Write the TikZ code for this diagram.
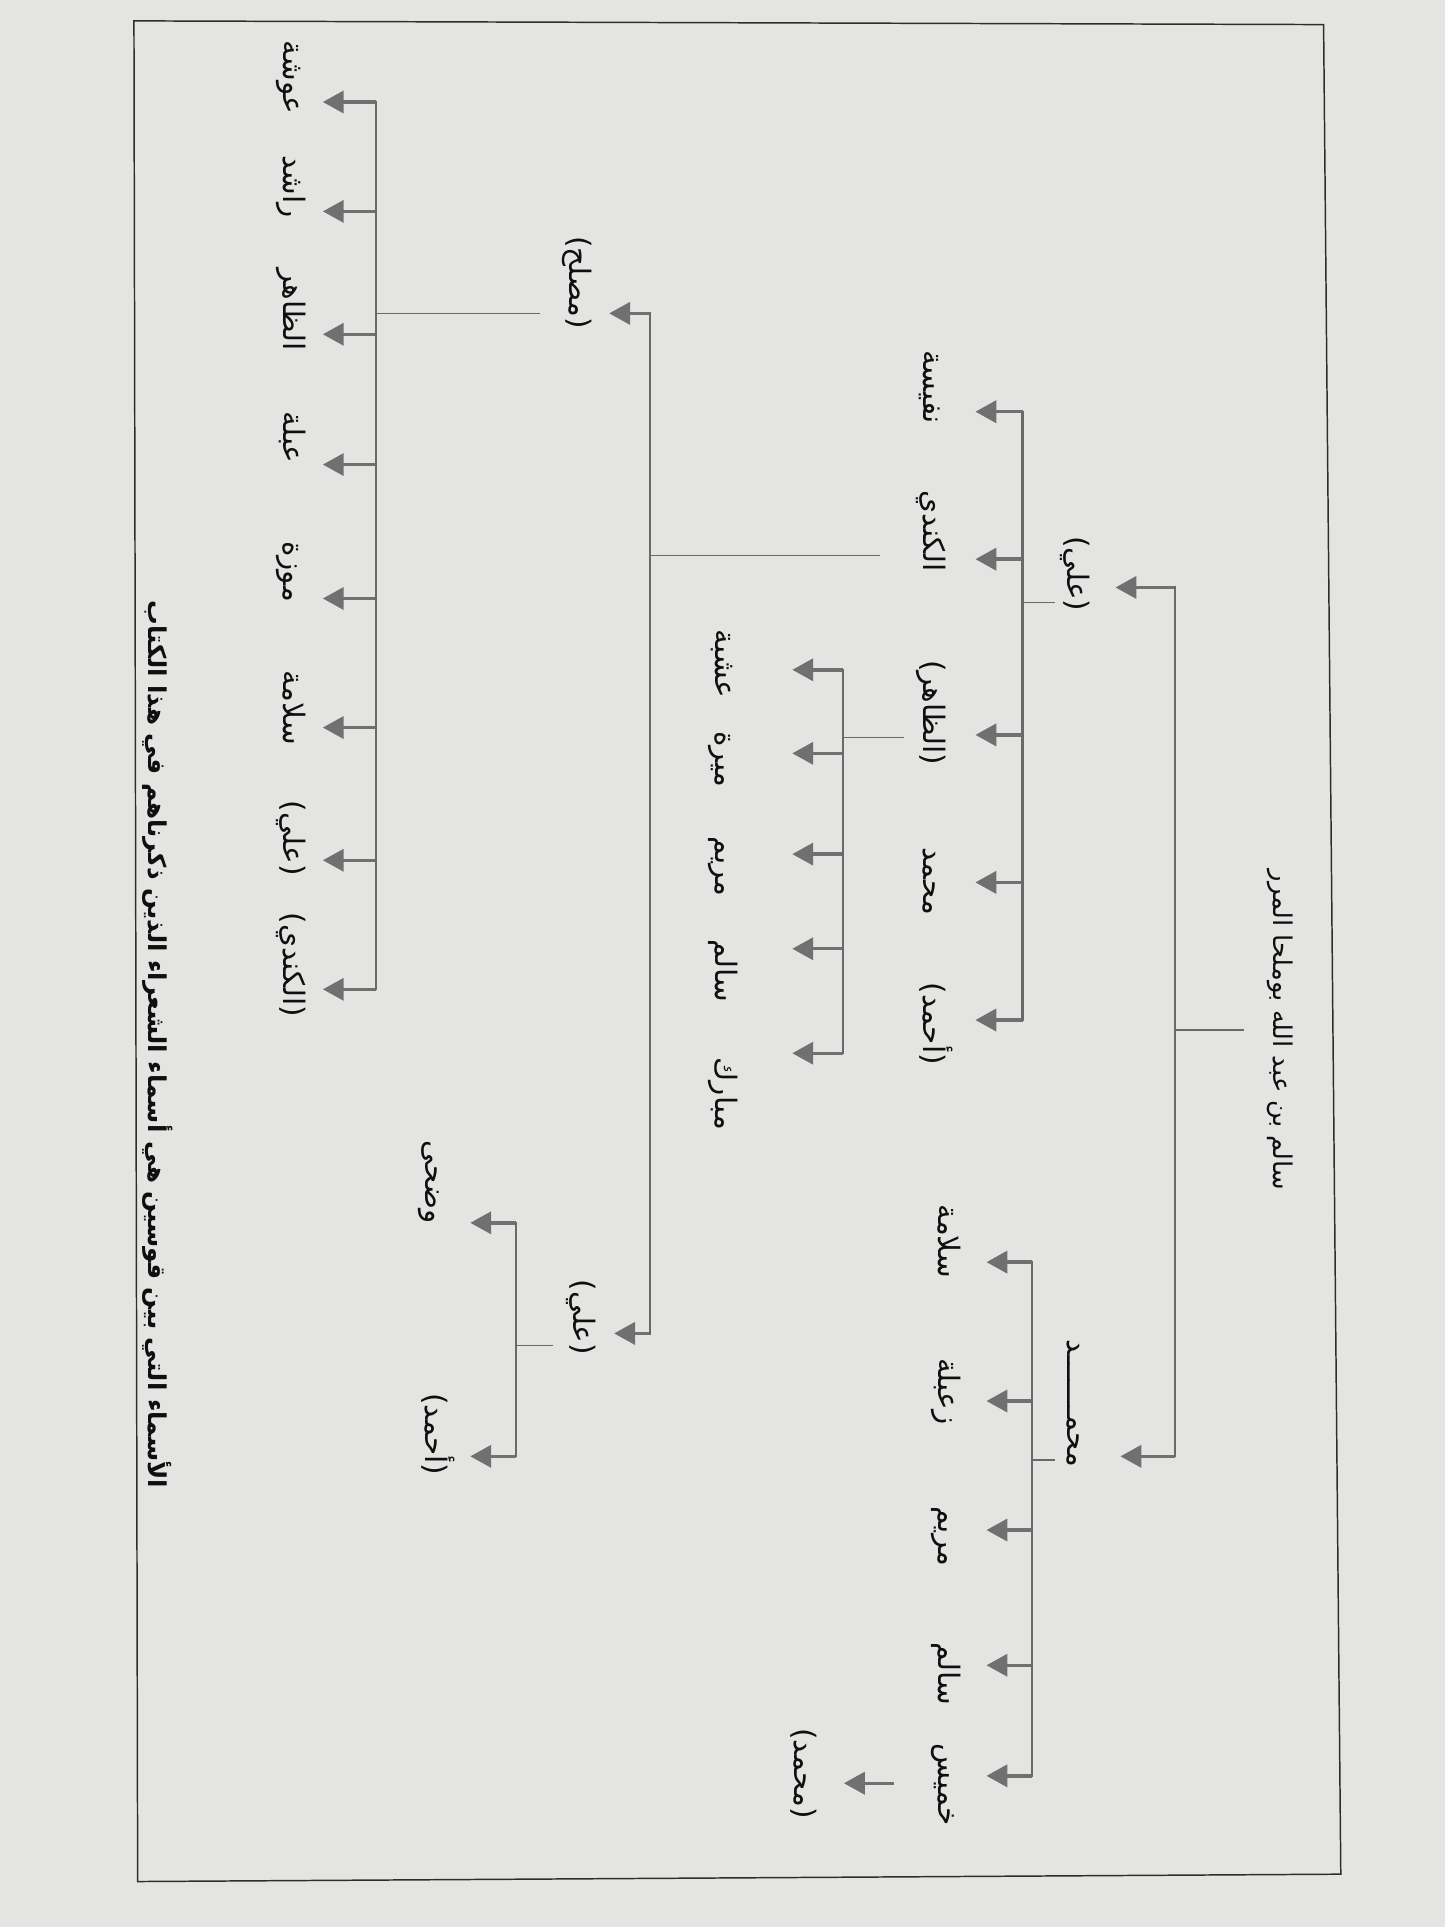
\documentclass[tikz,border=0pt]{standalone}
\usepackage{fontspec}
\TeXXeTstate=1
\newfontfamily\arabicfont[Script=Arabic]{DejaVu Sans}
\usetikzlibrary{arrows.meta}
\definecolor{paper}{RGB}{228,229,227}
\definecolor{framec}{RGB}{45,45,45}
\definecolor{linec}{RGB}{105,105,105}
\definecolor{arrc}{RGB}{112,112,112}
\definecolor{ink}{RGB}{15,15,15}
\newcommand{\arb}[1]{\beginR #1\endR}
% #1 bracket coordinate, #2 child node, #3 arrow yshift from node centre, #4 gap before label
\newcommand{\kid}[4]{%
  \coordinate (#2t) at ([yshift=#3]#2.north);
  \draw[arr=#4] (#1 |- #2t) -- (#2t);}
\begin{document}
\begin{tikzpicture}[x=1pt,y=-1pt,
  lab/.style={rotate=-90, inner sep=2pt, text=ink, text height=19pt, text depth=8pt,
     font=\fontsize{24}{28}\arabicfont},
  rootlab/.style={lab, font=\fontsize{21}{25}\arabicfont},
  titlelab/.style={lab, font=\fontsize{20}{24}\arabicfont\bfseries},
  bracket/.style={draw=linec, line width=1.8pt, line cap=rect},
  conn/.style={draw=linec, line width=1.1pt},
  arr/.style={draw=arrc, fill=arrc, line width=2.8pt, -{Triangle[length=17pt,width=18pt]}, shorten >=#1},
  arr/.default=12pt,
]
\fill[paper] (0,0) rectangle (1176,1568);
\useasboundingbox (0,0) rectangle (1176,1568);
\draw[framec, line width=1.2pt] (109,17) -- (1077,20) -- (1091,1525) -- (112,1531) -- cycle;

% title
\node[titlelab] (title) at (126,850) {\arb{الأسماء التي بين قوسين هي أسماء الشعراء الذين ذكرناهم في هذا الكتاب}};

% root
\node[rootlab] (root) at (1042,838) {\arb{سالم بن عبد الله بوملحا المرر}};
\coordinate (rj) at (956,0);
\draw[conn, shorten <=14pt] (root.south) -- (rj |- root.south);
\node[lab] (ali1) at (874,467) {\arb{(علي)}};
\node[lab] (moh2) at (874,1142) {\arb{محمـــــــد}};
\kid{rj}{ali1}{-11pt}{18pt}
\kid{rj}{moh2}{-43pt}{22pt}
\draw[bracket] (rj |- ali1t) -- (rj |- moh2t);

% children of (علي)
\coordinate (b1) at (832,0);
\node[lab] (n1) at (757,315) {\arb{نفيسة}};
\node[lab] (n2) at (757,432) {\arb{الكندي}};
\node[lab] (n3) at (757,580) {\arb{(الظاهر)}};
\node[lab] (n4) at (757,717) {\arb{محمد}};
\node[lab] (n5) at (757,833) {\arb{(أحمد)}};
\coordinate (ali1c) at ([yshift=-23pt]ali1.south);
\draw[conn] (ali1c) -- (b1 |- ali1c);
\kid{b1}{n1}{-20pt}{21pt}
\kid{b1}{n2}{-23pt}{21pt}
\kid{b1}{n3}{-18pt}{21pt}
\kid{b1}{n4}{-1pt}{21pt}
\kid{b1}{n5}{3pt}{21pt}
\draw[bracket] (b1 |- n1t) -- (b1 |- n5t);

% children of (الظاهر)
\coordinate (b2) at (686,0);
\node[lab] (m1) at (588,540) {\arb{عشبة}};
\node[lab] (m2) at (588,618) {\arb{ميرة}};
\node[lab] (m3) at (588,705) {\arb{مريم}};
\node[lab] (m4) at (588,790) {\arb{سالم}};
\node[lab] (m5) at (588,890) {\arb{مبارك}};
\coordinate (n3c) at ([yshift=-20pt]n3.south);
\draw[conn, shorten <=6pt] (n3c) -- (b2 |- n3c);
\kid{b2}{m1}{-5pt}{41pt}
\kid{b2}{m2}{5pt}{41pt}
\kid{b2}{m3}{10pt}{41pt}
\kid{b2}{m4}{18pt}{41pt}
\kid{b2}{m5}{33pt}{41pt}
\draw[bracket] (b2 |- m1t) -- (b2 |- m5t);

% children of الكندي
\coordinate (v3) at (529,0);
\node[lab] (mslh) at (469,230) {\arb{(مصلح)}};
\node[lab] (ali2) at (472,1072) {\arb{(علي)}};
\coordinate (n2c) at ([yshift=-20pt]n2.south);
\draw[conn, shorten <=25pt] (n2c) -- (v3 |- n2c);
\kid{v3}{mslh}{-25pt}{11pt}
\kid{v3}{ali2}{-13pt}{12pt}
\draw[bracket] (v3 |- mslht) -- (v3 |- ali2t);

% children of (مصلح)
\coordinate (b4) at (306,0);
\node[lab] (l1) at (236,63) {\arb{عوشة}};
\node[lab] (l2) at (236,152) {\arb{راشد}};
\node[lab] (l3) at (236,252) {\arb{الظاهر}};
\node[lab] (l4) at (236,356) {\arb{عبلة}};
\node[lab] (l5) at (236,465) {\arb{موزة}};
\node[lab] (l6) at (236,576) {\arb{سلامة}};
\node[lab] (l7) at (236,682) {\arb{(علي)}};
\node[lab] (l8) at (236,785) {\arb{(الكندي)}};
\coordinate (mslhc) at ([yshift=-25pt]mslh.south);
\draw[conn, shorten <=14pt] (mslhc) -- (b4 |- mslhc);
\kid{b4}{l1}{-20pt}{11pt}
\kid{b4}{l2}{-20pt}{11pt}
\kid{b4}{l3}{-20pt}{11pt}
\kid{b4}{l4}{-22pt}{11pt}
\kid{b4}{l5}{-22pt}{11pt}
\kid{b4}{l6}{-16pt}{11pt}
\kid{b4}{l7}{-18pt}{11pt}
\kid{b4}{l8}{-20pt}{11pt}
\draw[bracket] (b4 |- l1t) -- (b4 |- l8t);

% children of the lower (علي)
\coordinate (b5) at (420,0);
\node[lab] (w1) at (352,962) {\arb{وضحى}};
\node[lab] (w2) at (352,1167) {\arb{(أحمد)}};
\coordinate (ali2c) at ([yshift=-23pt]ali2.south);
\draw[conn, shorten <=6pt] (ali2c) -- (b5 |- ali2c);
\kid{b5}{w1}{-33pt}{15pt}
\kid{b5}{w2}{-18pt}{15pt}
\draw[bracket] (b5 |- w1t) -- (b5 |- w2t);

% children of محمد
\coordinate (b6) at (840,0);
\node[lab] (k1) at (769,1010) {\arb{سلامة}};
\node[lab] (k2) at (769,1132) {\arb{زعبلة}};
\node[lab] (k3) at (769,1250) {\arb{مريم}};
\node[lab] (k4) at (769,1362) {\arb{سالم}};
\node[lab] (k5) at (769,1452) {\arb{خميس}};
\coordinate (moh2c) at ([yshift=-46pt]moh2.south);
\draw[conn] (moh2c) -- (b6 |- moh2c);
\kid{b6}{k1}{-17pt}{18pt}
\kid{b6}{k2}{-8pt}{18pt}
\kid{b6}{k3}{5pt}{18pt}
\kid{b6}{k4}{7pt}{18pt}
\kid{b6}{k5}{7pt}{18pt}
\draw[bracket] (b6 |- k1t) -- (b6 |- k5t);

% child of خميس
\node[lab] (mhd) at (652,1443) {\arb{(محمد)}};
\coordinate (mhdt) at ([yshift=-8pt]mhd.north);
\draw[arr=19pt, shorten <=26pt] (k5.south |- mhdt) -- (mhdt);
\end{tikzpicture}
\end{document}
